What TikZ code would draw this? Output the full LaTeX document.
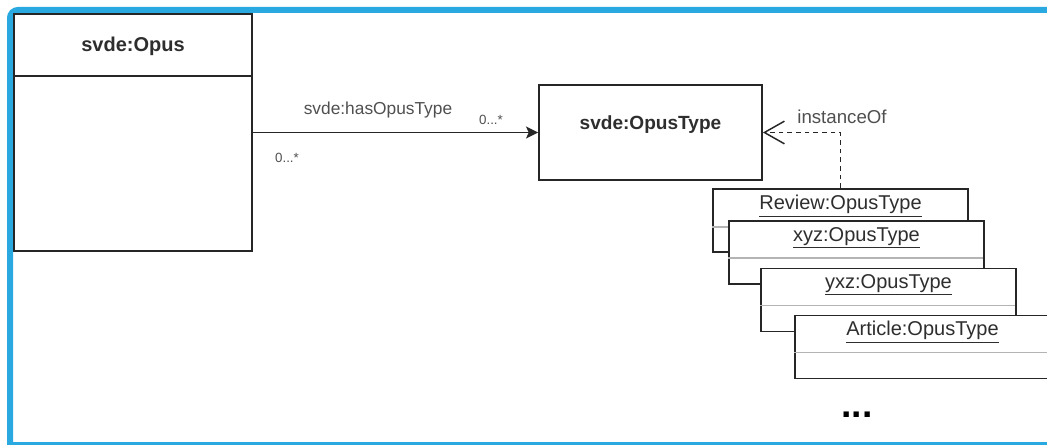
\documentclass[tikz,border=0pt]{standalone}
\usepackage{fontspec}
\setmainfont{Liberation Sans}
\usetikzlibrary{arrows.meta}
\definecolor{frameblue}{HTML}{29A9DF}
\definecolor{ink}{HTML}{262626}
\definecolor{txt}{HTML}{2E2E2E}
\definecolor{lighttxt}{HTML}{505050}
\definecolor{divgray}{HTML}{B4B4B4}
\begin{document}
\begin{tikzpicture}[x=0.75pt,y=-0.75pt,
  umlbox/.style={draw=ink, line width=1.4pt, fill=white, inner sep=0pt},
  inst/.style={draw=ink, line width=1.4pt, fill=white, inner sep=0pt,
    minimum width=191.25pt, minimum height=47.25pt},
  instlabel/.style={text=txt, font=\fontsize{15}{17}\selectfont, inner sep=0pt},
  divider/.style={draw=divgray, line width=1pt},
  mult/.style={text=lighttxt, font=\fontsize{10}{11}\selectfont, inner sep=0pt},
  assoc/.style={draw=ink, line width=1.4pt, -{Stealth[length=9pt,width=9pt,inset=2pt]}},
  realize/.style={draw=ink, line width=1.1pt, dashed, dash pattern=on 3.5pt off 3pt,
    -{Straight Barb[length=15pt,width=17pt,line width=1.1pt]}}
]
\useasboundingbox (0,0) rectangle (1047,445);
\clip (0,0) rectangle (1047,445);
\fill[white] (0,0) rectangle (1047,445);

% frame
\draw[frameblue, line width=4.5pt, rounded corners=6pt] (10,450) -- (10,10) -- (1060,10);
\draw[frameblue, line width=2.4pt] (7,443.5) -- (1060,443.5);

% svde:Opus class
\node[umlbox, minimum width=178.5pt, minimum height=177.75pt] (opus) at (133,132.5) {};
\draw[ink, line width=1.4pt] (opus.north west) ++(0,63) -- ++(238,0);
\node[text=txt, font=\bfseries\fontsize{15}{17}\selectfont, inner sep=0pt] (opusname) at (133,46) {svde:Opus};

% svde:OpusType class
\node[umlbox, minimum width=167.25pt, minimum height=71.25pt] (type) at (650.5,132.5) {};
\node[text=txt, font=\bfseries\fontsize{14.3}{16}\selectfont, inner sep=0pt] (typename) at (650.5,125) {svde:OpusType};

% association
\draw[assoc] (opus) -- (type);
\node[text=lighttxt, font=\fontsize{13}{15}\selectfont, inner sep=0pt] (assoclbl) at (378,110) {svde:hasOpusType};
\node[mult] (multr) at (491,120) {0...*};
\node[mult] (multl) at (287,158) {0...*};

% instances
\node[inst] (review) at (840.5,220.5) {};
\draw[divider] (review.north west) ++(0,39) -- ++(255,0);
\node[instlabel] (reviewlbl) at (840.5,206) {\underline{Review:OpusType}};

\node[inst] (xyz) at (856.5,252.5) {};
\draw[divider] (xyz.north west) ++(0,38) -- ++(255,0);
\node[instlabel] (xyzlbl) at (856.5,238) {\underline{xyz:OpusType}};

\node[inst] (yxz) at (888.5,300) {};
\draw[divider] (yxz.north west) ++(0,38) -- ++(255,0);
\node[instlabel] (yxzlbl) at (888.5,285) {\underline{yxz:OpusType}};

\node[inst] (article) at (922.5,347) {};
\draw[divider] (article.north west) ++(0,38) -- ++(255,0);
\node[instlabel] (articlelbl) at (922.5,332) {\underline{Article:OpusType}};

% instanceOf
\draw[realize] (review.north) |- (type.east);
\node[text=lighttxt, font=\fontsize{14}{16}\selectfont, inner sep=0pt] (instlbl) at (842,117) {instanceOf};

% ellipsis
\node[text=black, font=\bfseries\fontsize{28}{30}\selectfont, inner sep=0pt, anchor=base] (dots) at (857,418) {...};
\end{tikzpicture}
\end{document}
